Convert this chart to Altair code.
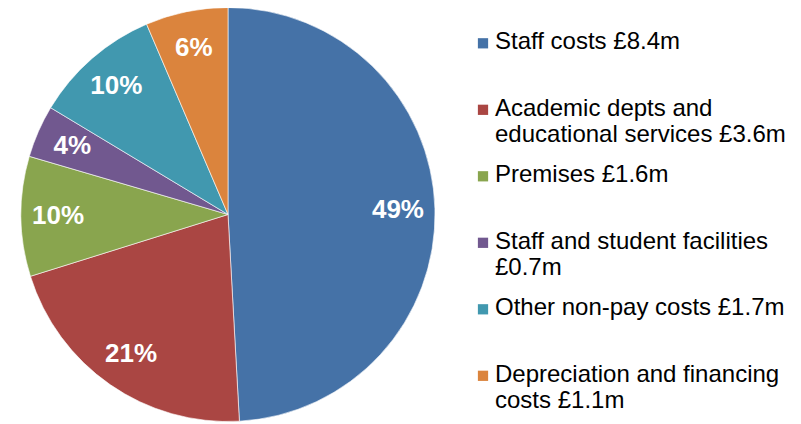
import altair as alt
import pandas as pd

categories = [
    "Staff costs",
    "Academic depts and educational services",
    "Premises",
    "Staff and student facilities",
    "Other non-pay costs",
    "Depreciation and financing costs",
]
values = [8.4, 3.6, 1.6, 0.7, 1.7, 1.1]
pct_labels = ["49%", "21%", "10%", "4%", "10%", "6%"]
legend_labels = [
    "Staff costs £8.4m",
    "Academic depts and\neducational services £3.6m",
    "Premises £1.6m",
    "Staff and student facilities\n£0.7m",
    "Other non-pay costs £1.7m",
    "Depreciation and financing\ncosts £1.1m",
]
colors = ["#4572A7", "#AA4643", "#89A54E", "#71588F", "#4198AF", "#DB843D"]

df = pd.DataFrame({
    "idx": list(range(len(categories))),
    "category": categories,
    "value": values,
    "pct": pct_labels,
    "legend": legend_labels,
})

FONT = "Liberation Sans"
cx, cy = 220, 206.5

color_enc = alt.Color("category:N", scale=alt.Scale(domain=categories, range=colors), legend=None)

base = alt.Chart(df)

pie = base.mark_arc(outerRadius=207, stroke="white", strokeWidth=0.6).encode(
    theta=alt.Theta("value:Q", stack=True),
    color=color_enc,
    order=alt.Order("idx:Q"),
    x=alt.value(cx),
    y=alt.value(cy),
)

labels = base.mark_text(
    radius=170, font=FONT, fontSize=26, fontWeight="bold", color="white",
    align="center", baseline="middle",
).encode(
    theta=alt.Theta("value:Q", stack=True),
    detail="category:N",
    order=alt.Order("idx:Q"),
    text="pct:N",
    x=alt.value(cx),
    y=alt.value(cy),
)

yscale = alt.Scale(domain=[0, 5], range=[35.3, 367.8])

squares = base.mark_square(size=105, opacity=1).encode(
    x=alt.value(475),
    y=alt.Y("idx:Q", scale=yscale, axis=None),
    color=color_enc,
)

leg_text = base.mark_text(
    font=FONT, fontSize=24, color="#000000", align="left", baseline="top",
    dy=-13, lineBreak="\n", lineHeight=26,
).encode(
    x=alt.value(487),
    y=alt.Y("idx:Q", scale=yscale, axis=None),
    text="legend:N",
)

chart = alt.layer(pie, labels, squares, leg_text).properties(
    width=785, height=416,
    autosize=alt.AutoSizeParams(type="none"),
    padding=0,
).configure_view(stroke=None)

chart.save("out.html", embed_options={"renderer": "svg", "actions": False})
